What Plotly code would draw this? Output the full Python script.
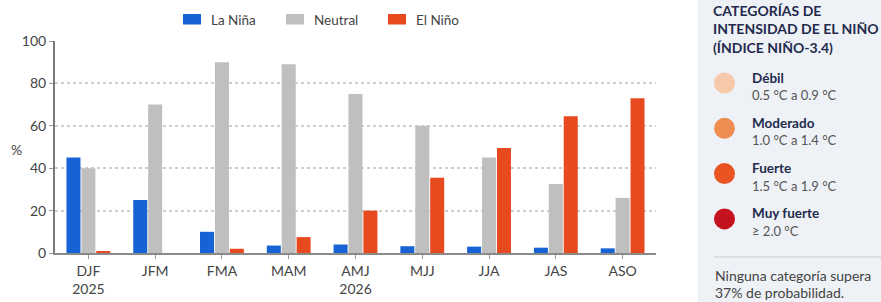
import plotly.graph_objects as go

categories = ["DJF<br>2025", "JFM", "FMA", "MAM", "AMJ<br>2026", "MJJ", "JJA", "JAS", "ASO"]
la_nina = [45, 25, 10, 3.5, 4, 3.2, 3, 2.5, 2.2]
neutral = [40, 70, 90, 89, 75, 60, 45, 32.5, 26]
el_nino = [0.5, 0, 2, 7.5, 20, 35.5, 49.5, 64.5, 73]

series_names = ["La Niña", "Neutral", "El Niño"]
series_colors = ["#1763d6", "#bfbfbf", "#e84a1f"]

cat_names = ["Débil", "Moderado", "Fuerte", "Muy fuerte"]
cat_ranges = ["0.5 °C a 0.9 °C", "1.0 °C a 1.4 °C", "1.5 °C a 1.9 °C", "≥ 2.0 °C"]
cat_colors = ["#f6c9aa", "#ee8d52", "#ea5422", "#c5121f"]

W, H = 881, 302
L, R, T, B = 55, 225, 41, 49
PW, PH = W - L - R, H - T - B
FONT = "Lato"
NAVY = "#1f2b4d"
TXT = "#444444"


def px(x):
    return (x - L) / PW


def py(y):
    return (H - B - y) / PH


fig = go.Figure()
for name, vals, col in zip(series_names, [la_nina, neutral, el_nino], series_colors):
    fig.add_trace(go.Bar(x=categories, y=vals, name=name, marker=dict(color=col, line=dict(width=0))))

shapes = []
annotations = []

# legend (drawn manually to control placement)
legend_x = [183, 286, 388]
for nm, col, lx in zip(series_names, series_colors, legend_x):
    shapes.append(dict(type="rect", xref="paper", yref="paper", x0=px(lx), x1=px(lx + 18),
                       y0=py(24.5), y1=py(14), fillcolor=col, line=dict(width=0)))
    annotations.append(dict(text=nm, xref="paper", yref="paper", x=px(lx + 26), y=py(19.5),
                            xanchor="left", yanchor="middle", showarrow=False,
                            font=dict(family=FONT, size=13.5, color=TXT)))

# right panel background
shapes.append(dict(type="rect", xref="paper", yref="paper", x0=px(698), x1=px(W + 2), y0=py(H + 2), y1=py(-2),
                   fillcolor="#eef1f6", line=dict(width=0), layer="below"))

title_lines = ["CATEGORÍAS DE", "INTENSIDAD DE EL NIÑO", "(ÍNDICE NIÑO-3.4)"]
for i, line in enumerate(title_lines):
    annotations.append(dict(text="<b>" + line + "</b>", xref="paper", yref="paper", x=px(711), y=py(10 + 18.5 * i),
                            xanchor="left", yanchor="middle", showarrow=False,
                            font=dict(family=FONT, size=14, color=NAVY)))

for i, (nm, rg, col) in enumerate(zip(cat_names, cat_ranges, cat_colors)):
    cy = 83 + 45.3 * i
    r = 10.5
    shapes.append(dict(type="circle", xref="paper", yref="paper", x0=px(724.5 - r), x1=px(724.5 + r),
                       y0=py(cy + r), y1=py(cy - r), fillcolor=col, line=dict(width=0)))
    annotations.append(dict(text="<b>" + nm + "</b>", xref="paper", yref="paper", x=px(750), y=py(cy - 5.5),
                            xanchor="left", yanchor="middle", showarrow=False,
                            font=dict(family=FONT, size=13.5, color=NAVY)))
    annotations.append(dict(text=rg, xref="paper", yref="paper", x=px(750), y=py(cy + 12),
                            xanchor="left", yanchor="middle", showarrow=False,
                            font=dict(family=FONT, size=13, color="#555555")))

shapes.append(dict(type="line", xref="paper", yref="paper", x0=px(714), x1=px(W + 2), y0=py(257), y1=py(257),
                   line=dict(color="#c9ccd2", width=1)))
for i, line in enumerate(["Ninguna categoría supera", "37% de probabilidad."]):
    annotations.append(dict(text=line, xref="paper", yref="paper", x=px(713), y=py(275 + 17 * i),
                            xanchor="left", yanchor="middle", showarrow=False,
                            font=dict(family=FONT, size=14, color=TXT)))

annotations.append(dict(text="%", xref="paper", yref="paper", x=px(16), y=py(149),
                        xanchor="center", yanchor="middle", showarrow=False,
                        font=dict(family=FONT, size=14, color=TXT)))

fig.update_layout(
    width=W, height=H,
    margin=dict(l=L, r=R, t=T, b=B, autoexpand=False),
    paper_bgcolor="white", plot_bgcolor="white",
    font=dict(family=FONT, size=14, color=TXT),
    barmode="group", bargap=0.33, bargroupgap=0.06,
    showlegend=False,
    shapes=shapes, annotations=annotations,
)
fig.update_yaxes(range=[0, 100], tickvals=[0, 20, 40, 60, 80, 100], showgrid=True, gridcolor="#cfcfcf",
                 griddash="dot", gridwidth=1.5, showline=True, linecolor="#7a7a7a", linewidth=2,
                 ticks="outside", ticklen=4, tickcolor="#999999", zeroline=False, automargin=False,
                 tickfont=dict(family=FONT, size=14, color=TXT))
fig.update_xaxes(showline=True, linecolor="#8a8a8a", linewidth=1.5, ticks="outside", ticklen=4,
                 tickcolor="#999999", automargin=False, tickfont=dict(family=FONT, size=14, color=TXT))

fig.write_html("out.html", config={"displayModeBar": False},
               post_script="document.body.style.margin='0';")
